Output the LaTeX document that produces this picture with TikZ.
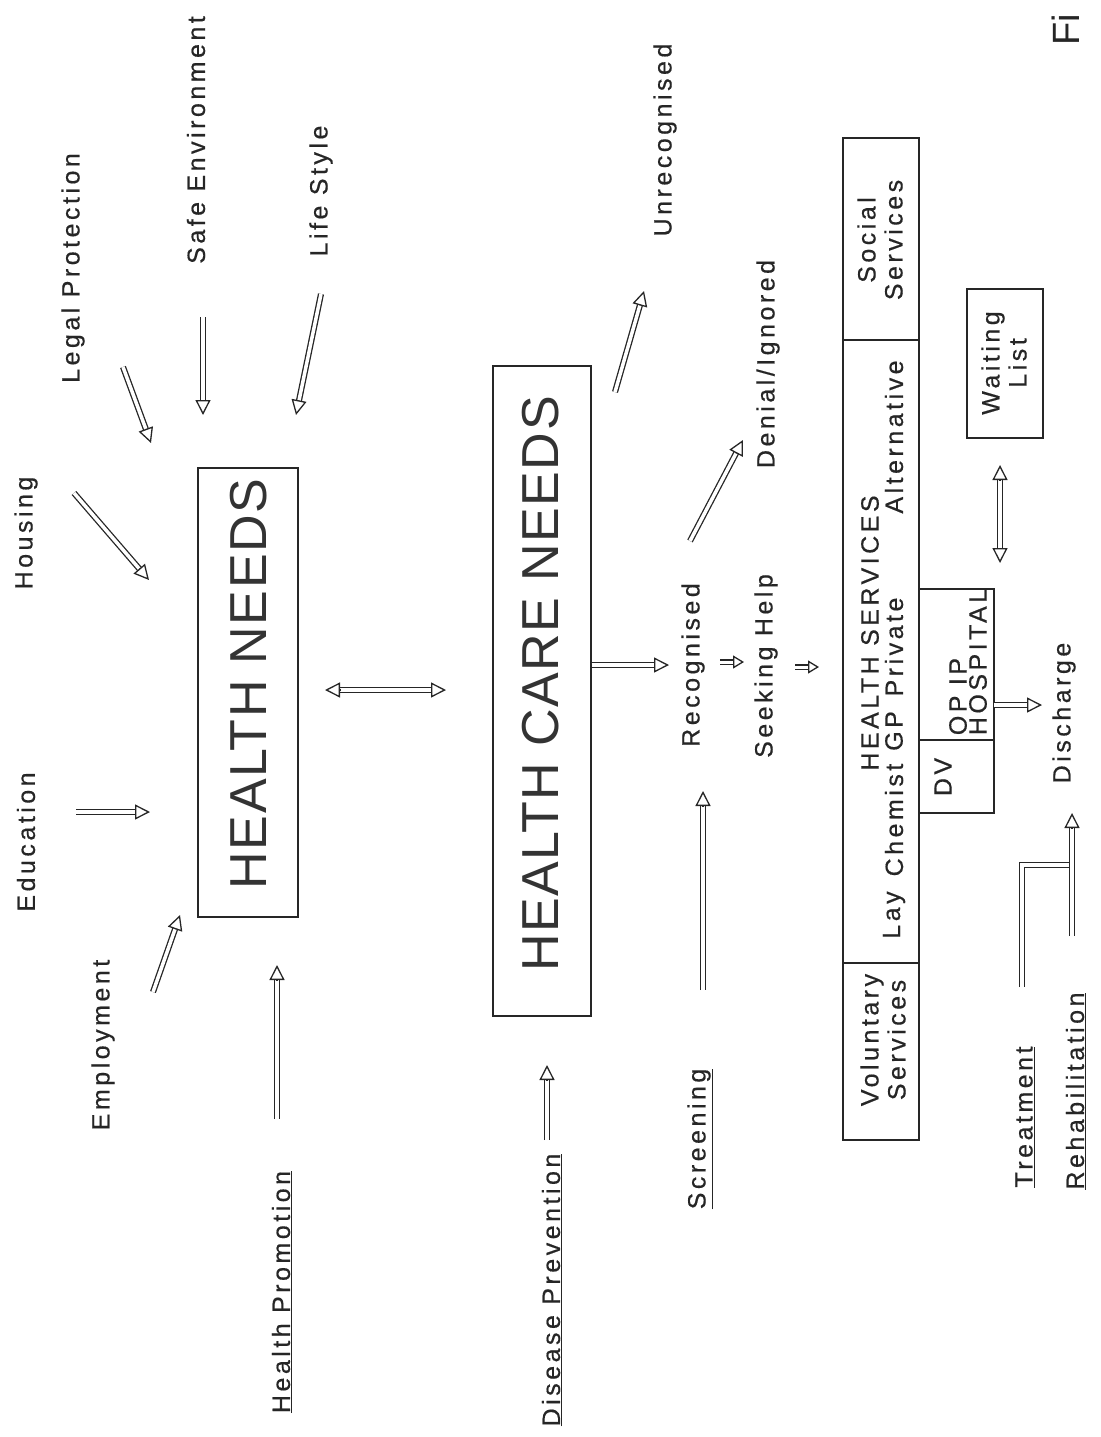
\documentclass[tikz,border=0pt]{standalone}
\usepackage{fontspec}
\newfontfamily\labf{Liberation Sans}[LetterSpace=14, FakeBold=0.5]
\newfontfamily\bigf{Liberation Sans}[LetterSpace=3]
\usetikzlibrary{arrows.meta,calc}
\newcommand{\harrow}[2]{%
  \draw[shaft, shorten >=7pt] (#1) -- (#2);
  \draw[tipst] ($(#2)!15pt!(#1)$) -- (#2);}
\newcommand{\hdarrow}[2]{%
  \draw[shaft, shorten >=7pt, shorten <=7pt] (#1) -- (#2);
  \draw[tipst] ($(#2)!15pt!(#1)$) -- (#2);
  \draw[tipst] ($(#1)!15pt!(#2)$) -- (#1);}
\newcommand{\hsarrow}[2]{%
  \draw[shaft, double distance=3pt, shorten >=5pt] (#1) -- (#2);
  \draw[tipsm] ($(#2)!11pt!(#1)$) -- (#2);}
\begin{document}
\begin{tikzpicture}[x=1pt,y=-1pt,
  lbl/.style={rotate=90, font=\labf\fontsize{25}{27}\selectfont, inner sep=0pt, align=center, text=black!85},
  bigt/.style={rotate=90, font=\bigf\fontsize{52}{60}\selectfont, inner sep=0pt, text=black!80},
  boxl/.style={draw=black!85, line width=1.4pt},
  shaft/.style={draw=black!85, double=white, double distance=3.5pt, line width=1.3pt},
  tipst/.style={draw=black!85, line width=1.3pt,
    -{Triangle[open, fill=white, length=15pt, width=15pt]}},
  tipsm/.style={draw=black!85, line width=1.3pt,
    -{Triangle[open, fill=white, length=11pt, width=13pt]}}
]
\useasboundingbox (0,0) rectangle (1100,1437);

% ---- labels around HEALTH NEEDS
\node[lbl] (edu) at (26,842) {Education};
\node[lbl] (hou) at (26,533) {Housing};
\node[lbl] (leg) at (73,268) {Legal Protection};
\node[lbl] (safe) at (196,140) {Safe Environment};
\node[lbl] (life) at (321,191) {Life Style};
\node[lbl] (emp) at (103,1045) {Employment};
\node[lbl] (hp) at (282,1292) {\underline{Health Promotion}};

% ---- main boxes
\node[boxl, minimum width=100pt, minimum height=449pt, inner sep=0pt] (hn) at (248,692.5) {};
\node[bigt] (hnt) at (249,684) {HEALTH NEEDS};
\node[boxl, minimum width=98pt, minimum height=650pt, inner sep=0pt] (hcn) at (542,691) {};
\node[bigt] (hcnt) at (541,684) {HEALTH CARE NEEDS};

% ---- arrow end points
\coordinate (eduA) at (76,812);   \coordinate (eduB) at (150,812);
\coordinate (houA) at (74,493);   \coordinate (houB) at (149,580);
\coordinate (legA) at (123,367);  \coordinate (legB) at (151,443);
\coordinate (safeA) at (203,317); \coordinate (safeB) at (203,415);
\coordinate (lifeA) at (321,294); \coordinate (lifeB) at (296,415);
\coordinate (empA) at (153,992);  \coordinate (empB) at (180,915);
\coordinate (hpA) at (277,1119);  \coordinate (hpB) at (277,965);
\coordinate (dblA) at (325,690);  \coordinate (dblB) at (446,690);

\harrow{eduA}{eduB}
\harrow{houA}{houB}
\harrow{legA}{legB}
\harrow{safeA}{safeB}
\harrow{lifeA}{lifeB}
\harrow{empA}{empB}
\harrow{hpA}{hpB}
\hdarrow{dblA}{dblB}

% ---- middle column
\node[lbl] (dp) at (552,1290) {\underline{Disease Prevention}};
\node[lbl] (scr) at (700,1139) {\underline{Screening}};
\node[lbl] (rec) at (693,665) {Recognised};
\node[lbl] (seek) at (766,666) {Seeking Help};
\node[lbl] (den) at (768,364) {Denial/Ignored};
\node[lbl] (unr) at (665,140) {Unrecognised};

\coordinate (dpA) at (547,1140);  \coordinate (dpB) at (547,1065);
\coordinate (scrA) at (703,990);  \coordinate (scrB) at (703,791);
\coordinate (recA) at (669,665);
\coordinate (hcnR) at (hcn.east |- recA);
\coordinate (s1A) at (720,662);   \coordinate (s1B) at (744,662);
\coordinate (s2A) at (795,667);   \coordinate (s2B) at (819,667);
\coordinate (denA) at (690,541);  \coordinate (denB) at (743,440);
\coordinate (unrA) at (615,392);  \coordinate (unrB) at (644,291);

\harrow{dpA}{dpB}
\harrow{scrA}{scrB}
\harrow{hcnR}{recA}
\hsarrow{s1A}{s1B}
\hsarrow{s2A}{s2B}
\harrow{denA}{denB}
\harrow{unrA}{unrB}

% ---- services block
\draw[boxl] (843,138) rectangle (919,1140);
\draw[boxl] (843,340) -- (919,340);
\draw[boxl] (843,963) -- (919,963);
\draw[boxl] (919,589) rectangle (994,813);
\draw[boxl] (919,740) -- (994,740);
\node[lbl] (soc) at (880,240) {Social\\Services};
\node[lbl] (hs) at (870,633) {HEALTH SERVICES};
\node[lbl] (lay) at (894,915) {Lay};
\node[lbl] (chem) at (894,820) {Chemist};
\node[lbl] (gp) at (894,731) {GP};
\node[lbl] (priv) at (894,647) {Private};
\node[lbl] (alt) at (894,437) {Alternative};
\node[lbl] (vol) at (883,1040) {Voluntary\\Services};
\node[lbl] (dv) at (943,777) {DV};
\node[lbl, align=left, font=\labf\fontsize{25}{20}\selectfont] (hosp) at (968,662) {OP IP\\HOSPITAL};

\draw[boxl] (967,289) rectangle (1043,438);
\node[lbl] (wl) at (1004,363) {Waiting\\List};
\coordinate (wlA) at (1000,465);  \coordinate (wlB) at (1000,563);
\hdarrow{wlA}{wlB}

\node[lbl] (dis) at (1064,713) {Discharge};
\coordinate (disA) at (994,705);  \coordinate (disB) at (1042,705);
\harrow{disA}{disB}

\node[lbl] (tre) at (1025,1117) {\underline{Treatment}};
\node[lbl] (reh) at (1076,1091) {\underline{Rehabilitation}};
\coordinate (treA) at (1022,987); \coordinate (treB) at (1022,865); \coordinate (treC) at (1070,865);
\coordinate (rehA) at (1072,936); \coordinate (rehB) at (1072,813);
\draw[shaft] (treA) -- (treB) -- (treC);
\harrow{rehA}{rehB}

\node[rotate=90, font=\fontspec{Liberation Sans}\fontsize{38}{40}\selectfont, inner sep=0pt, text=black!85] (fig) at (1066,30) {Fi};
\end{tikzpicture}
\end{document}
